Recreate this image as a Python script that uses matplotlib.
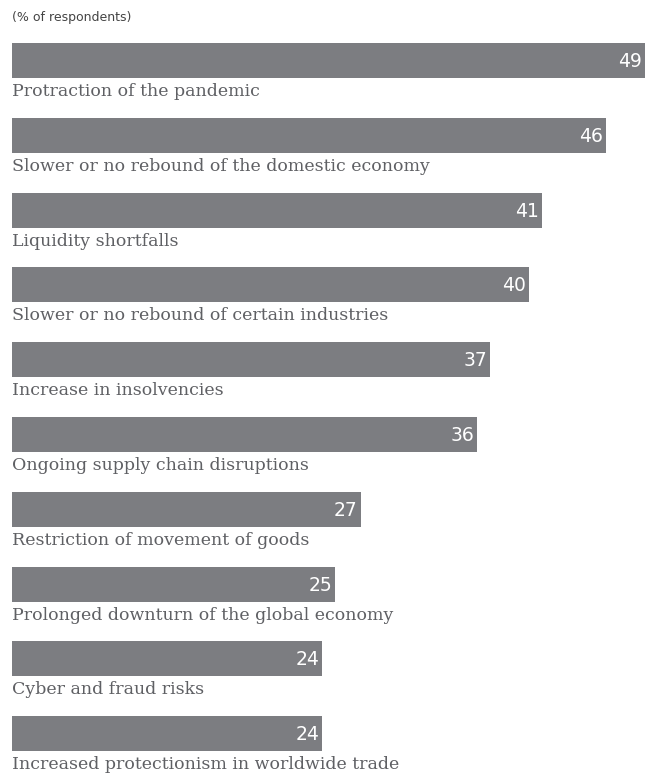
import matplotlib.pyplot as plt

categories = [
    "Protraction of the pandemic",
    "Slower or no rebound of the domestic economy",
    "Liquidity shortfalls",
    "Slower or no rebound of certain industries",
    "Increase in insolvencies",
    "Ongoing supply chain disruptions",
    "Restriction of movement of goods",
    "Prolonged downturn of the global economy",
    "Cyber and fraud risks",
    "Increased protectionism in worldwide trade",
]
values = [49, 46, 41, 40, 37, 36, 27, 25, 24, 24]

bar_color = "#7c7d81"
text_color = "#5f6064"

W, H = 654, 776
fig = plt.figure(figsize=(W / 100, H / 100), dpi=100)

left = 12
px_per_unit = 12.918
row = 74.8
first_center = 60.5
bar_h = 35 / row

ax = fig.add_axes([left / W, 0, 1 - left / W, 1])
ax.set_xlim(0, (W - left) / px_per_unit)
ax.set_ylim((H - first_center) / row, -first_center / row)
ax.axis("off")

ypos = list(range(len(values)))
ax.barh(ypos, values, height=bar_h, color=bar_color, left=0)

for y, v, c in zip(ypos, values, categories):
    ax.text(v - 3 / px_per_unit, y + 1 / row, str(v), ha="right", va="center",
            color="white", fontsize=13.5, family="DejaVu Sans")
    ax.text(0, y + bar_h / 2 + 5 / row, c, ha="left", va="top",
            color=text_color, fontsize=12.5, family="DejaVu Serif")

fig.text(left / W, 1 - 17 / H, "(% of respondents)", ha="left", va="center",
         color="#444444", fontsize=9, family="DejaVu Sans")

fig.savefig("out.png", dpi=100)
